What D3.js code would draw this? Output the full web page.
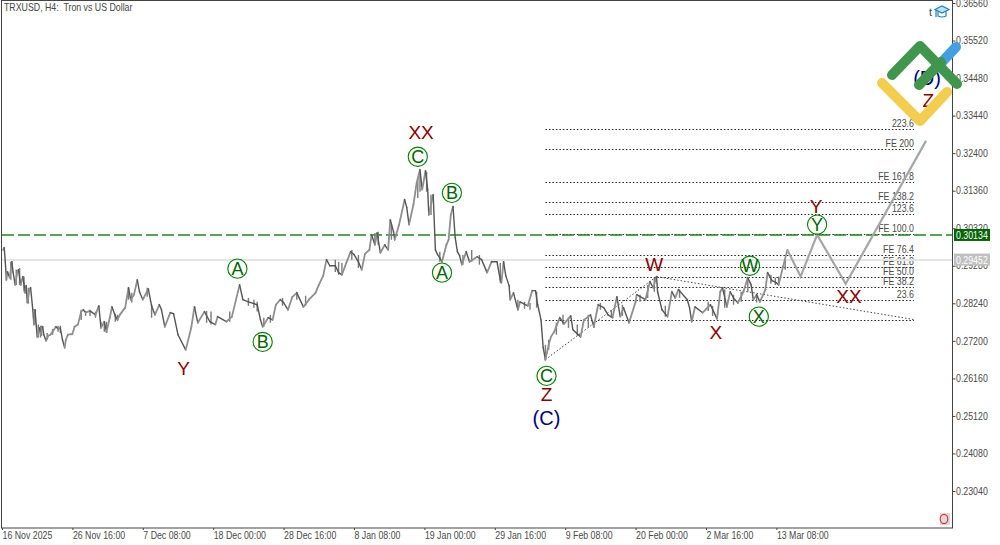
<!DOCTYPE html>
<html>
<head>
<meta charset="utf-8">
<script src="https://cdn.jsdelivr.net/npm/d3@7"></script>
<style>
  html, body { margin: 0; padding: 0; background: #fff; }
  svg { display: block; }
  text { font-family: "Liberation Sans", Arial, sans-serif; }
</style>
</head>
<body>
<div id="chart"></div>
<script>
// price history: 4h bar number since 16 Nov 2025 and price
var barNo = [1,2,3,4,5,7,9,10,12,14,15,17,19,21,22,23,25,26,28,29,30,32,34,35,37,38,40,42,44,46,49,51,53,55,57,58,60,64,66,69,72,74,76,80,85,88,90,93,95,98,100,103,105,107,112,115,117,120,123,125,128,133,136,139,143,145,148,153,156,160,167,172,175,178,184,189,194,196,204,209,216,219,224,232,235,237,242,246,249,253,256,260,264,268,274,279,285,288,292,295,298,303,306,309,313,317,320,324,327,330,334,336,339,341,344,348,351,353,356,357,361,366,368,370,374,377,380,382,385,387,388,392,394,396,398,400,404,406,408,410,412,414,416,418,422,425,432,436,441,445,450,453,454,456,458,461,462,465,469,471,478,482,485,487,490,492,494,497,499,502,507,511,517,519,526,529,535,538,542,547,551,555,559,562,565,570,576,577,585,589,592,595,596,600,605,609,612,615,623,625,627,630,637,644,650,653,655,659,662,665,669,674,678,681,683,686,689,694,696,700,704,706,710,714];
var price = [.2972,.2978,.2939,.2889,.2911,.2895,.2939,.2911,.2875,.2911,.2917,.2875,.2898,.2853,.2873,.2826,.2862,.2867,.2806,.2765,.2806,.2731,.2756,.2739,.2759,.2737,.272,.2734,.2737,.2745,.2759,.2753,.2756,.2723,.2701,.2723,.2737,.2739,.2759,.2765,.2801,.2806,.2798,.2803,.2792,.2817,.2756,.2773,.2745,.2784,.2814,.2789,.2778,.2792,.2812,.2867,.2834,.2848,.2889,.2856,.2834,.2864,.2817,.2792,.282,.2806,.2759,.2798,.2795,.2737,.2695,.2756,.2814,.277,.2801,.2773,.2765,.2787,.2773,.2787,.2875,.2834,.2828,.282,.2778,.2759,.2784,.2778,.282,.2834,.2826,.2806,.2842,.2853,.2814,.2834,.2853,.2875,.29,.2945,.2928,.2928,.2909,.2903,.2936,.2967,.2959,.2939,.2917,.2961,.2972,.3014,.2986,.3019,.2964,.2986,.2972,.3055,.3022,.3,.3042,.3111,.3089,.3042,.3097,.3158,.3194,.3139,.3191,.3139,.3069,.3125,.2972,.2959,.295,.2939,.2986,.3,.3069,.3092,.3006,.2967,.2956,.2931,.2967,.2939,.2953,.2945,.2909,.2939,.2939,.2889,.2881,.2939,.29,.2873,.2834,.2853,.2806,.2828,.2817,.2859,.2859,.282,.2778,.2701,.2668,.2709,.2731,.2745,.2784,.2767,.2789,.2751,.2731,.2778,.2792,.2759,.282,.2812,.2792,.2784,.2842,.2787,.2812,.277,.2828,.2848,.2834,.2884,.2867,.2898,.2856,.2806,.2787,.2856,.2839,.2862,.2834,.2812,.2773,.2814,.2798,.282,.2781,.2856,.2867,.2814,.2856,.2839,.2825,.2856,.2895,.2875,.2834,.2848,.2828,.2862,.2909,.2887,.2881,.2875,.2925,.2972];

// bars where the range is visibly wider than the line: bar, high, low
var rangeBar = [8,13,16,20,24,30,33,35,36,41,46,51,53,72,76,80,85,90,93,95,103,105,115,118,132,136,186,190,207,224,229,232,238,244,255,268,276,303,306,309,318,324,339,342,354,378,380,386,390,398,419,427,434,453,469,475,480,486,494,497,504,510,515,523,533,538,544,554,564,580,587,593,603,616,642,646,657,665,672,678,686,699,703,706,712];
var rangeHigh = [.2939,.2917,.2922,.2898,.2867,.2806,.2765,.2762,.2762,.2742,.2753,.2762,.2762,.2806,.2803,.2806,.2801,.2773,.2773,.2773,.2795,.2792,.2867,.2853,.2867,.282,.2803,.2801,.2801,.2839,.2834,.2828,.2784,.2792,.2839,.2856,.2845,.2945,.2939,.2936,.2972,.2958,.3019,.3022,.3042,.3172,.3191,.3188,.3125,.2967,.2958,.2972,.2958,.2936,.2834,.2828,.2825,.2856,.2709,.2723,.277,.2792,.2784,.2765,.2792,.2773,.2825,.2806,.282,.2848,.2875,.2895,.2817,.2862,.2828,.2817,.2862,.2848,.2856,.2895,.2848,.2903,.2895,.2898,.2945];
var rangeLow = [.2889,.2875,.2875,.2856,.2823,.2765,.2729,.2729,.2734,.2723,.2737,.2745,.2742,.2778,.2789,.2789,.2784,.2756,.2745,.2742,.2773,.2776,.2834,.2826,.2842,.2784,.277,.2765,.2773,.2817,.2812,.2801,.2759,.277,.2817,.2834,.2817,.2911,.2903,.2903,.2945,.2922,.2986,.2986,.3,.3116,.3133,.3133,.3069,.2939,.2931,.2939,.2931,.2881,.2806,.2809,.2806,.2812,.2665,.2695,.2737,.2765,.2756,.2734,.2756,.2756,.2806,.2784,.2789,.2828,.2839,.2856,.2787,.2839,.2803,.2789,.2812,.282,.2828,.2856,.2826,.2878,.2875,.2875,.2917];

// forecast path
var forecastBar = [714,726,741,767,840];
var forecastPrice = [.2972,.2898,.3014,.2878,.3274];

// price axis
var priceTicks = [.3656,.3552,.3448,.3344,.324,.3136,.3032,.2928,.2824,.272,.2616,.2512,.2408,.2304];
var askPrice = 0.30134, bidPrice = 0.29452;

// time axis
var timeTicks = ["2025-11-16 00:00","2025-11-26 16:00","2025-12-07 08:00","2025-12-18 00:00","2025-12-28 16:00","2026-01-08 08:00","2026-01-19 00:00","2026-01-29 16:00","2026-02-09 08:00","2026-02-20 00:00","2026-03-02 16:00","2026-03-13 08:00"];
var timeLabels = ["16 Nov 2025","26 Nov 16:00","7 Dec 08:00","18 Dec 00:00","28 Dec 16:00","8 Jan 08:00","19 Jan 00:00","29 Jan 16:00","9 Feb 08:00","20 Feb 00:00","2 Mar 16:00","13 Mar 08:00"];

// fibonacci levels
var fibLevels = [0,23.6,38.2,50,61.8,76.4,100,123.6,138.2,161.8,200,223.6];
var fibNames = ["","23.6","FE 38.2","FE 50.0","FE 61.8","FE 76.4","FE 100.0","123.6","FE 138.2","FE 161.8","FE 200","223.6"];
var fibBase = .2778, fibTop = .3015, fibFrom = 494, fibTo = 829;

// dotted trend lines [bar, price, bar, price]
var trendLines = [[494,.2668,595,.2898],[595,.2898,829,.2779]];

// wave marks
var circleMarks = [["A",214,.292],["B",237,.2717],["C",378,.323],["A",400,.2909],["B",409,.313],["C",495,.2623],["W",680,.2928],["X",688,.2787],["Y",741,.3042]];
var redMarks = [["Y",165,.2645],["XX",381,.3299],["Z",495,.2573],["W",593,.2934],["X",649,.2745],["Y",740,.3094],["XX",770,.2845],["Z",842,.3388]];
var blueMarks = [["(C)",495,.2507],["(D)",841,.3447]];

var width = 1000, height = 545;
var parseTime = d3.utcParse("%Y-%m-%d %H:%M");
var startTime = parseTime(timeTicks[0]);
var barTime = function(n) { return d3.utcHour.offset(startTime, 4 * n); };

var x = d3.scaleUtc()
  .domain([startTime, barTime(64)])
  .range([2, 72.4]);
var y = d3.scaleLinear()
  .domain([.2304, .3656])
  .range([491, 3]);

var svg = d3.select("#chart").append("svg")
  .attr("width", width)
  .attr("height", height);

// the terminal font is narrower than what we have
var narrow = "scale(.88,1)";
function narrowAt(px, py) { return "translate(" + px + "," + py + ") " + narrow; }

// fib levels
var fib = svg.append("g");
fibLevels.forEach(function(l, i) {
  var p = fibBase + l / 100 * (fibTop - fibBase);
  fib.append("line")
    .attr("x1", x(barTime(fibFrom))).attr("x2", x(barTime(fibTo)))
    .attr("y1", Math.round(y(p)) + .5).attr("y2", Math.round(y(p)) + .5)
    .attr("stroke", "#222").attr("stroke-dasharray", "1.5,2");
  fib.append("text")
    .attr("transform", narrowAt(x(barTime(fibTo)), y(p) - 2))
    .attr("text-anchor", "end")
    .attr("font-size", 10).attr("fill", "#4a4a4a")
    .text(fibNames[i]);
});

// bid and ask lines
svg.append("line")
  .attr("x1", 2).attr("x2", 952)
  .attr("y1", Math.round(y(bidPrice))).attr("y2", Math.round(y(bidPrice)))
  .attr("stroke", "#e4e4e4").attr("stroke-width", 2);
svg.append("line")
  .attr("x1", 2).attr("x2", 952)
  .attr("y1", y(askPrice)).attr("y2", y(askPrice))
  .attr("stroke", "#168a16").attr("stroke-width", 1.4).attr("stroke-dasharray", "12,4");

// trend lines
svg.append("g").selectAll("line")
  .data(trendLines)
  .join("line")
  .attr("x1", d => x(barTime(d[0]))).attr("y1", d => y(d[1]))
  .attr("x2", d => x(barTime(d[2]))).attr("y2", d => y(d[3]))
  .attr("stroke", "#444").attr("stroke-dasharray", "1.5,2");

// wide bars
svg.append("g").selectAll("line")
  .data(d3.zip(rangeBar, rangeHigh, rangeLow))
  .join("line")
  .attr("x1", d => x(barTime(d[0]))).attr("x2", d => x(barTime(d[0])))
  .attr("y1", d => y(d[1])).attr("y2", d => y(d[2]))
  .attr("stroke", "#7a7a7a").attr("stroke-width", 1.4);

// price line, rising legs lighter than falling ones
var segs = d3.pairs(d3.zip(barNo, price));
svg.append("g").attr("stroke-linecap", "round").selectAll("line")
  .data(segs)
  .join("line")
  .attr("x1", d => x(barTime(d[0][0]))).attr("y1", d => y(d[0][1]))
  .attr("x2", d => x(barTime(d[1][0]))).attr("y2", d => y(d[1][1]))
  .attr("stroke", d => d[1][1] > d[0][1] ? "#8f8f8f" : "#555")
  .attr("stroke-width", d => d[1][1] > d[0][1] ? 1.8 : 1.4);

// forecast
svg.append("path")
  .datum(d3.zip(forecastBar, forecastPrice))
  .attr("fill", "none")
  .attr("stroke", "#a6a6a6").attr("stroke-width", 2.2)
  .attr("d", d3.line().x(d => x(barTime(d[0]))).y(d => y(d[1])));

// wave marks
var circles = svg.append("g").selectAll("g")
  .data(circleMarks)
  .join("g")
  .attr("transform", d => "translate(" + x(barTime(d[1])) + "," + y(d[2]) + ")");
circles.append("circle")
  .attr("r", 9.6).attr("fill", "none")
  .attr("stroke", "#008000").attr("stroke-width", 1.1);
circles.append("text")
  .attr("text-anchor", "middle").attr("y", 6.5)
  .attr("font-size", 18).attr("fill", "#006400")
  .text(d => d[0]);

svg.append("g").selectAll("text")
  .data(redMarks)
  .join("text")
  .attr("x", d => x(barTime(d[1]))).attr("y", d => y(d[2]) + 7)
  .attr("text-anchor", "middle")
  .attr("font-size", 19).attr("fill", "#8b0000")
  .text(d => d[0]);

svg.append("g").selectAll("text")
  .data(blueMarks)
  .join("text")
  .attr("x", d => x(barTime(d[1]))).attr("y", d => y(d[2]) + 7)
  .attr("text-anchor", "middle")
  .attr("font-size", 20).attr("fill", "#000080")
  .text(d => d[0]);

// frame and axes
svg.append("rect")
  .attr("x", 1.5).attr("y", .5)
  .attr("width", 951).attr("height", 527.5)
  .attr("fill", "none").attr("stroke", "#444");

var yAxis = svg.append("g")
  .attr("transform", "translate(952.5,0)")
  .call(d3.axisRight(y).tickValues(priceTicks).tickFormat(d3.format(".5f")).tickSize(3).tickPadding(1));
var xAxis = svg.append("g")
  .attr("transform", "translate(0,528)")
  .call(d3.axisBottom(x).tickValues(timeTicks.map(parseTime)).tickFormat((d, i) => timeLabels[i]).tickSize(2).tickPadding(2));
[yAxis, xAxis].forEach(function(a) {
  a.select(".domain").remove();
  a.selectAll("line").attr("stroke", "#444");
  a.selectAll("text")
    .attr("fill", "#4a4a4a")
    .attr("transform", narrow)
    .style("font-family", "'Liberation Sans', Arial, sans-serif")
    .style("font-size", "10px");
});
xAxis.selectAll("text").attr("text-anchor", "start").attr("x", 0);

// price tags
[[askPrice, "#006400"], [bidPrice, "#c0c0c0"]].forEach(function(t) {
  svg.append("rect")
    .attr("x", 954).attr("y", y(t[0]) - 6)
    .attr("width", 36).attr("height", 12)
    .attr("fill", t[1]);
  svg.append("text")
    .attr("transform", narrowAt(956, y(t[0]) + 4))
    .attr("font-size", 10).attr("fill", "#fff")
    .text(d3.format(".5f")(t[0]));
});

// header
svg.append("text")
  .attr("transform", narrowAt(4, 11))
  .attr("font-size", 10).attr("fill", "#444")
  .attr("xml:space", "preserve")
  .text("TRXUSD, H4:  Tron vs US Dollar");

// academy mark, top right
svg.append("text").attr("x", 929).attr("y", 16).attr("font-size", 11).attr("fill", "#444").text("t");
var cap = svg.append("g").attr("transform", "translate(935,6)").attr("fill", "none").attr("stroke", "#1f7fc0").attr("stroke-width", 1.2);
cap.append("path").attr("d", "M0 3.5L7 0L14 3.5L7 7Z").attr("fill", "#bfe0f5");
cap.append("path").attr("d", "M3 5.5V10Q7 12 11 10V5.5M1 4V11");

// corner button
svg.append("rect").attr("x", 940).attr("y", 513).attr("width", 10).attr("height", 12).attr("fill", "#dcdcdc");
svg.append("ellipse").attr("cx", 944).attr("cy", 519).attr("rx", 3.8).attr("ry", 4.6).attr("fill", "none").attr("stroke", "#f03030").attr("stroke-width", 1.2);

// logo, over everything
var logo = svg.append("g").attr("fill", "none").attr("stroke-width", 10).attr("stroke-linecap", "round").attr("stroke-linejoin", "round");
logo.append("path").attr("d", "M882 83L920 121L947 92").attr("stroke", "#f2cd4e");
logo.append("path").attr("d", "M942 62L956 47").attr("stroke", "#419fe2");
logo.append("path").attr("d", "M892 75L920 46L957 84").attr("stroke", "#41964d");
logo.append("path").attr("d", "M919 85L941 62").attr("stroke", "#41964d");
</script>
</body>
</html>
